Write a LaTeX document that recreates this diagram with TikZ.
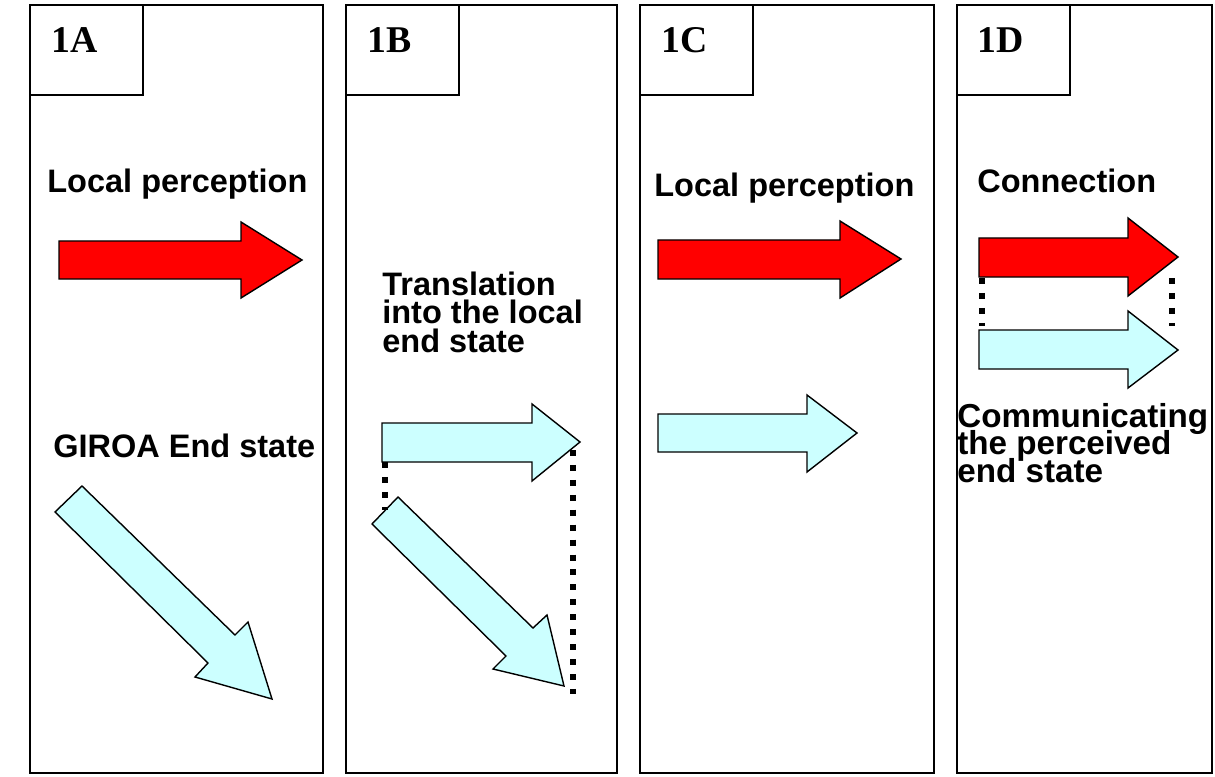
\documentclass[tikz,border=0pt]{standalone}
\usepackage{fontspec}
\setmainfont{Liberation Serif}
\setsansfont{Liberation Sans}
\definecolor{arrred}{RGB}{255,0,0}
\definecolor{arrcyan}{RGB}{204,255,255}
\newcommand\labtight{\lineskiplimit-50pt\relax}
\tikzset{
  panel/.style={draw=black, line width=1.1pt},
  tag/.style={font=\fontsize{21.5}{24}\selectfont\bfseries, inner sep=0pt, anchor=base west},
  lab/.style={font=\sffamily\bfseries\fontsize{18.5}{16.2}\selectfont\labtight,
              inner sep=0pt, anchor=base west, align=left},
  widelab/.style={lab, font=\sffamily\bfseries\fontsize{18.9}{15.6}\selectfont\labtight},
  hot/.style={fill=arrred, draw=black, line width=0.8pt},
  cold/.style={fill=arrcyan, draw=black, line width=0.8pt},
  link/.style={line width=3pt, dash pattern=on 3.4pt off 5.1pt}
}

\begin{document}
\begin{tikzpicture}[x=0.02cm, y=-0.02cm]
  \useasboundingbox (0,0) rectangle (1215,777);

  % panel frames and tags
  \draw[panel] (30,5)   rectangle (323,773);
  \draw[panel] (30,5)   rectangle (143,95);
  \draw[panel] (346,5)  rectangle (617,773);
  \draw[panel] (346,5)  rectangle (459,95);
  \draw[panel] (640,5)  rectangle (934,773);
  \draw[panel] (640,5)  rectangle (753,95);
  \draw[panel] (957,5)  rectangle (1212,773);
  \draw[panel] (957,5)  rectangle (1070,95);
  \node[tag] (tA) at (51,53)  {1A};
  \node[tag] (tB) at (367,53) {1B};
  \node[tag] (tC) at (661,53) {1C};
  \node[tag] (tD) at (977,53) {1D};

  % panel 1A
  \node[lab] (perA) at (47,193) {Local perception};
  \node[lab] (endA) at (53,457) {GIROA End state};
  \draw[hot]  (59,241) -- (241,241) -- (241,222) -- (302,260) -- (241,298) -- (241,279) -- (59,279) -- cycle;
  \draw[cold] (82,486) -- (235,635) -- (248,622) -- (272,699) -- (195,677) -- (208,663) -- (55,512) -- cycle;

  % panel 1B (base of the last line)
  \node[lab] (trB) at (382,352) {Translation\\into the local\\end state};
  \draw[cold] (382,423) -- (532,423) -- (532,404) -- (580,442) -- (532,481) -- (532,462) -- (382,462) -- cycle;
  \draw[cold] (398,497) -- (533,628) -- (547,615) -- (564,686) -- (493,669) -- (506,656) -- (372,524) -- cycle;
  \coordinate (b1) at (385,462);
  \coordinate (b2) at (385,510);
  \coordinate (b3) at (573,450);
  \coordinate (b4) at (573,694);
  \draw[link] (b1) -- (b2);
  \draw[link] (b3) -- (b4);

  % panel 1C
  \node[lab] (perC) at (654,196) {Local perception};
  \draw[hot]  (658,240) -- (840,240) -- (840,221) -- (901,259) -- (840,298) -- (840,279) -- (658,279) -- cycle;
  \draw[cold] (658,414) -- (807,414) -- (807,395) -- (857,433) -- (807,472) -- (807,452) -- (658,452) -- cycle;

  % panel 1D
  \node[lab] (conD) at (977,193) {Connection};
  \node[widelab] (comD) at (957,482) {Communicating\\the perceived\\end state};
  \draw[hot]  (979,238) -- (1128,238) -- (1128,218) -- (1178,257) -- (1128,296) -- (1128,277) -- (979,277) -- cycle;
  \draw[cold] (979,330) -- (1128,330) -- (1128,311) -- (1178,350) -- (1128,388) -- (1128,369) -- (979,369) -- cycle;
  \coordinate (d1) at (982,278);
  \coordinate (d2) at (982,326);
  \coordinate (d3) at (1172,278);
  \coordinate (d4) at (1172,326);
  \draw[link] (d1) -- (d2);
  \draw[link] (d3) -- (d4);
\end{tikzpicture}
\end{document}
